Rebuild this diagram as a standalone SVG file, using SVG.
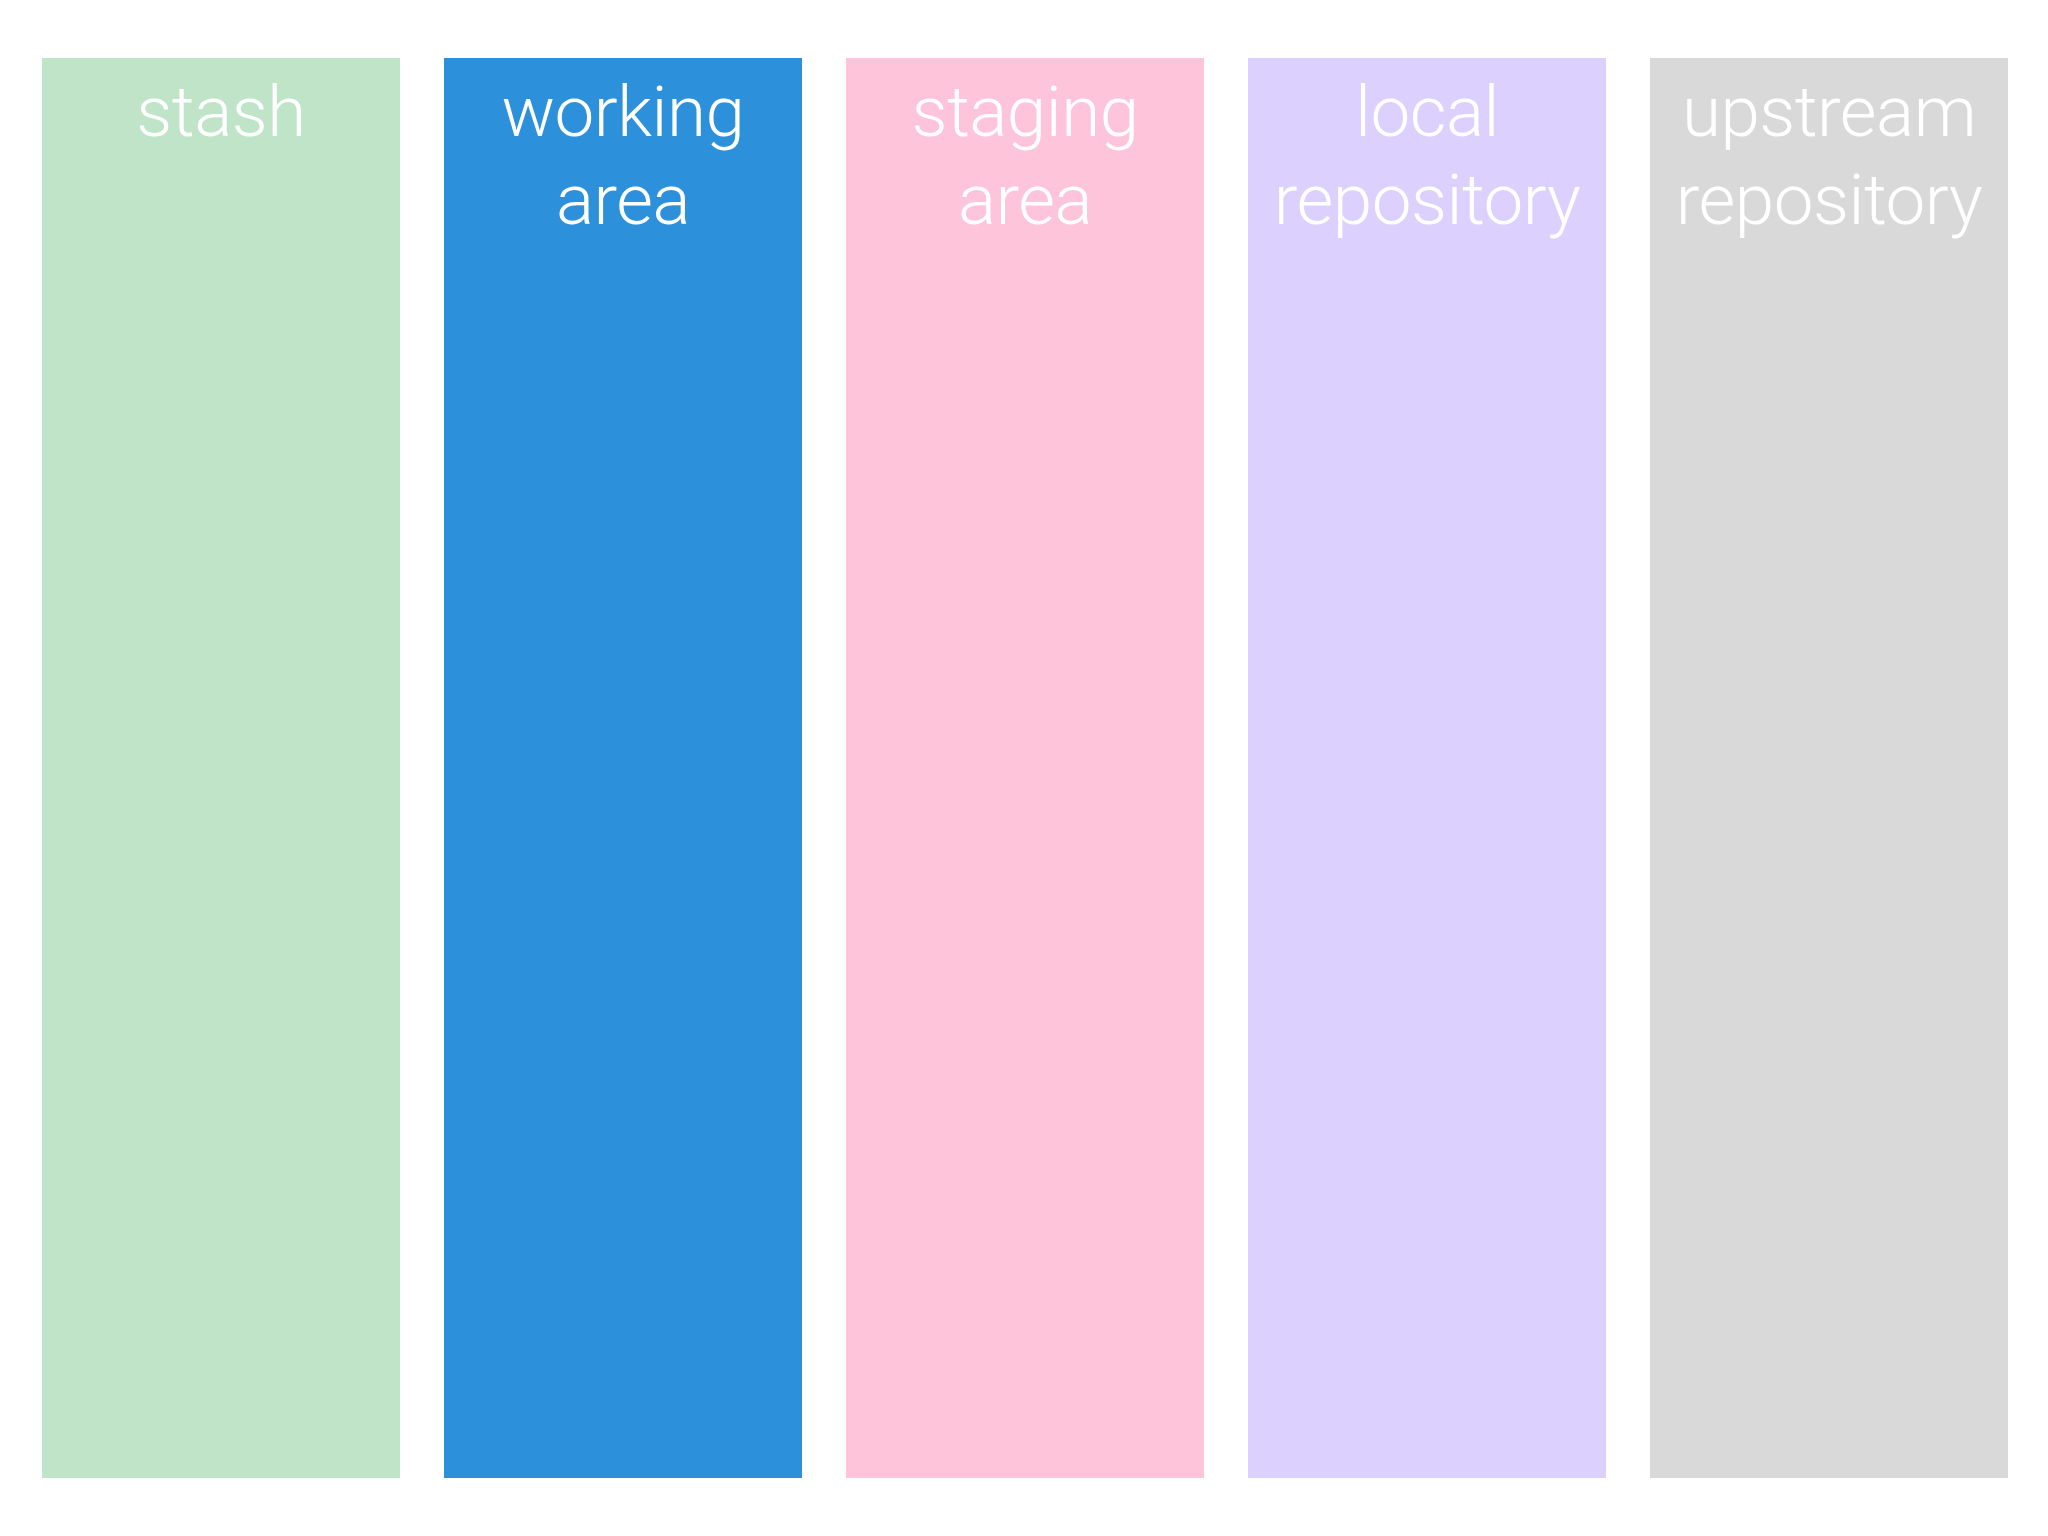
<svg xmlns="http://www.w3.org/2000/svg" width="2048" height="1536" viewBox="0 0 2048 1536">
<style>
.lbl{font-family:Roboto,"Liberation Sans",Arial,sans-serif;font-size:71px;fill:#ffffff;text-anchor:middle;font-weight:300;letter-spacing:-0.5px}
</style>
<rect x="0" y="0" width="2048" height="1536" fill="#ffffff"/>
<g id="stash">
<rect x="42" y="58" width="358" height="1420" fill="#bfe4c8"/>
<text class="lbl" x="221" y="136">stash</text>
</g>
<g id="working-area">
<rect x="444" y="58" width="358" height="1420" fill="#2c90db"/>
<text class="lbl" x="623" y="136">working</text>
<text class="lbl" x="623" y="224">area</text>
</g>
<g id="staging-area">
<rect x="846" y="58" width="358" height="1420" fill="#fec4d9"/>
<text class="lbl" x="1025" y="136">staging</text>
<text class="lbl" x="1025" y="224">area</text>
</g>
<g id="local-repository">
<rect x="1248" y="58" width="358" height="1420" fill="#dcd0fe"/>
<text class="lbl" x="1427" y="136">local</text>
<text class="lbl" x="1427" y="224">repository</text>
</g>
<g id="upstream-repository">
<rect x="1650" y="58" width="358" height="1420" fill="#d9d9d9"/>
<text class="lbl" x="1829" y="136">upstream</text>
<text class="lbl" x="1829" y="224">repository</text>
</g>
<g id="connectors"></g>
</svg>
